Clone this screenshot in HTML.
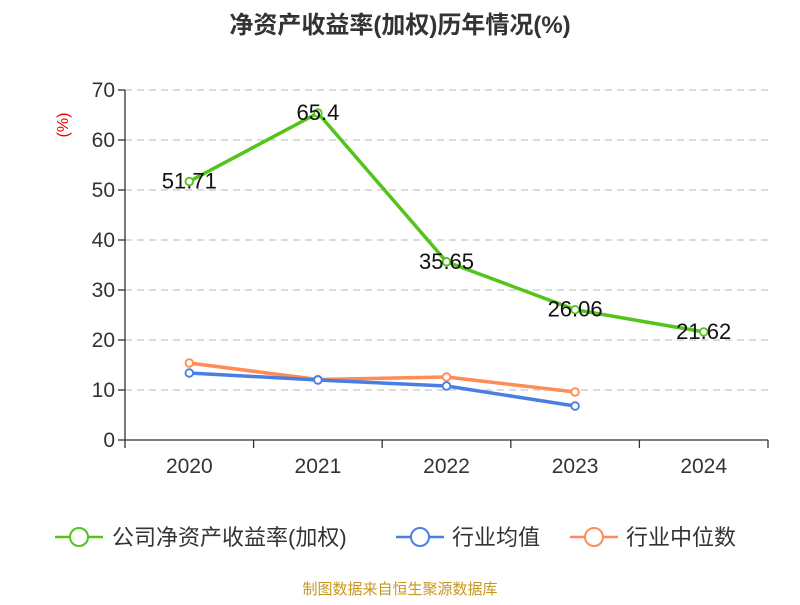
<!DOCTYPE html>
<html><head><meta charset="utf-8"><style>
body{margin:0;background:#fff;font-family:"Liberation Sans","Noto Sans CJK SC",sans-serif;}
</style></head><body>
<svg id="c" width="800" height="600" xmlns="http://www.w3.org/2000/svg" style="font-family:'Liberation Sans','Noto Sans CJK SC',sans-serif">
<text x="400" y="33" text-anchor="middle" font-size="24" font-weight="bold" fill="#333">净资产收益率(加权)历年情况(%)</text>
<text x="68" y="125" text-anchor="middle" font-size="16" fill="#e00" transform="rotate(-90 68 125)">(%)</text>
<g id="grid"></g><g id="axes"></g><g id="series"></g>
<g>
<g><line x1="55" y1="537" x2="103" y2="537" stroke="#52c41a" stroke-width="2.5"/><circle cx="79" cy="537" r="9" fill="#fff" stroke="#52c41a" stroke-width="2"/><text x="112" y="545" font-size="22" fill="#333">公司净资产收益率(加权)</text></g>
<g><line x1="396" y1="537" x2="444" y2="537" stroke="#4a7ee3" stroke-width="2.5"/><circle cx="420" cy="537" r="9" fill="#fff" stroke="#4a7ee3" stroke-width="2"/><text x="452" y="545" font-size="22" fill="#333">行业均值</text></g>
<g><line x1="570" y1="537" x2="618" y2="537" stroke="#ff8c55" stroke-width="2.5"/><circle cx="594" cy="537" r="9" fill="#fff" stroke="#ff8c55" stroke-width="2"/><text x="626" y="545" font-size="22" fill="#333">行业中位数</text></g>
</g>
<text x="400" y="594" text-anchor="middle" font-size="15" fill="#c8961e">制图数据来自恒生聚源数据库</text>
</svg>
<script>
const categories=["2020","2021","2022","2023","2024"];
const companyValues=[51.71,65.4,35.65,26.06,21.62];
const companyLabels=["51.71","65.4","35.65","26.06","21.62"];
const avgValues=[13.4,12.0,10.8,6.8];
const medianValues=[15.4,12.1,12.6,9.6];
const yTicks=[0,10,20,30,40,50,60,70];
const NS="http://www.w3.org/2000/svg";
const x0=125,x1=768,yb=440,yt=90,ymax=70;
const bw=(x1-x0)/categories.length;
const xs=i=>x0+bw*(i+0.5);
const ys=v=>yb-(v/ymax)*(yb-yt);
function mk(t,a,p){const e=document.createElementNS(NS,t);for(const k in a)e.setAttribute(k,a[k]);p.appendChild(e);return e;}
const grid=document.getElementById('grid'),axes=document.getElementById('axes'),ser=document.getElementById('series');
yTicks.forEach(v=>{
 if(v>0){const l=mk('line',{x1:x0,x2:x1,y1:ys(v),y2:ys(v),stroke:'#c8c8c8','stroke-dasharray':'7,5','stroke-width':1.3},grid);
 
 }
 const tk=mk('line',{x1:x0-7,x2:x0,y1:ys(v),y2:ys(v),stroke:'#333','stroke-width':1.3},axes);
 
 
 const t=mk('text',{x:x0-10,y:ys(v)+7,'text-anchor':'end','font-size':21,fill:'#333'},axes);t.textContent=v;
 
 
});
const ya=mk('line',{x1:x0,x2:x0,y1:yt,y2:yb,stroke:'#333','stroke-width':1.3},axes);


const xa=mk('line',{x1:x0,x2:x1,y1:yb,y2:yb,stroke:'#333','stroke-width':1.3},axes);


for(let i=0;i<=categories.length;i++){const tk=mk('line',{x1:x0+bw*i,x2:x0+bw*i,y1:yb,y2:yb+8,stroke:'#333','stroke-width':1.3},axes);
 
 }
categories.forEach((c,i)=>{const t=mk('text',{x:xs(i),y:473,'text-anchor':'middle','font-size':21,fill:'#333'},axes);t.textContent=c;
 
 });
function series(vals,color,name){
 const g=mk('g',{},ser);
 
 
 const p=mk('polyline',{points:vals.map((v,i)=>xs(i)+','+ys(v)).join(' '),fill:'none',stroke:color,'stroke-width':3.5,'stroke-linejoin':'round'},g);
 
 
 vals.forEach((v,i)=>{const c=mk('circle',{cx:xs(i),cy:ys(v),r:3.8,fill:'#fff',stroke:color,'stroke-width':1.8},g);
  
  });
}
series(medianValues,'#ff8c55','industry-median');
series(avgValues,'#4a7ee3','industry-avg');
series(companyValues,'#52c41a','company-roe');
companyValues.forEach((v,i)=>{const t=mk('text',{x:xs(i),y:ys(v)+7,'text-anchor':'middle','font-size':22,fill:'#111'},ser);t.textContent=companyLabels[i];
 
 });
</script>
</body></html>
